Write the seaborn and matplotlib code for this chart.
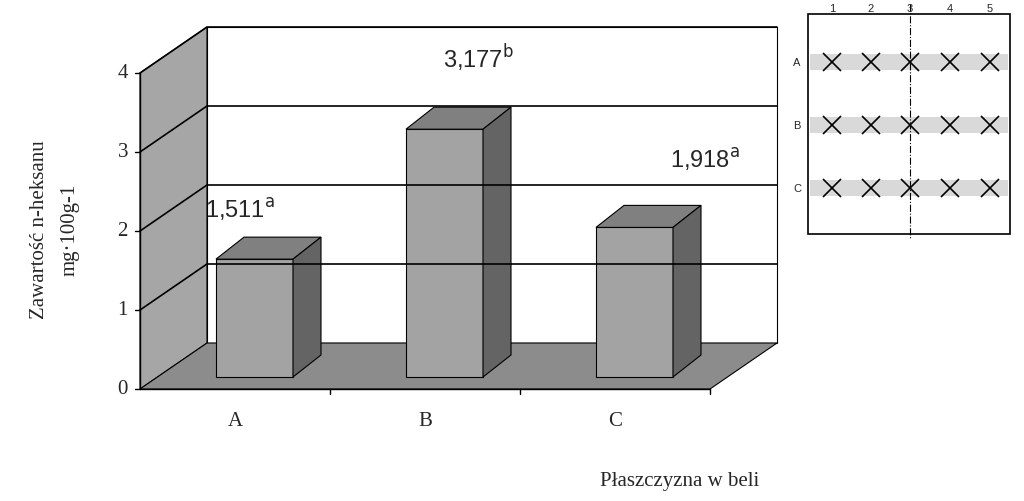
import matplotlib
matplotlib.use("Agg")
import matplotlib.pyplot as plt
import seaborn as sns
from matplotlib.patches import Polygon, Rectangle

sns.set_style("white")
plt.rcParams['font.family'] = ['Liberation Sans', 'DejaVu Sans']

categories = ["A", "B", "C"]
values = [1.511, 3.177, 1.918]
labels = ["1,511", "3,177", "1,918"]
letters = ["a", "b", "a"]
yticks = [0, 1, 2, 3, 4]
cols = ["1", "2", "3", "4", "5"]

fig = plt.figure(figsize=(10.24, 5.02), dpi=100)
ax = fig.add_axes([0, 0, 1, 1])
ax.set_xlim(0, 1024); ax.set_ylim(502, 0); ax.axis("off")

X0, X1, Y0, U = 140, 710, 390, 79
DX, DY = 67, -46
def fy(v): return Y0 - U * v

# walls
ax.add_patch(Polygon([(X0, fy(0)), (X0, fy(4)), (X0+DX, fy(4)+DY), (X0+DX, fy(0)+DY)],
                     closed=True, fc="#a6a6a6", ec="black", lw=0.8))
ax.add_patch(Polygon([(X0+DX, fy(4)+DY), (X1+DX, fy(4)+DY), (X1+DX, fy(0)+DY), (X0+DX, fy(0)+DY)],
                     closed=True, fc="white", ec="black", lw=0.8))
ax.add_patch(Polygon([(X0, fy(0)), (X1, fy(0)), (X1+DX, fy(0)+DY), (X0+DX, fy(0)+DY)],
                     closed=True, fc="#8c8c8c", ec="black", lw=0.8))
for v in yticks[1:]:
    ax.plot([X0, X0+DX, X1+DX], [fy(v), fy(v)+DY, fy(v)+DY], color="black", lw=1.2)
# axis line and ticks
ax.plot([X0, X0], [fy(0), fy(4)], color="black", lw=1)
ax.plot([X0, X1], [fy(0), fy(0)], color="black", lw=1)
for v in yticks:
    ax.plot([X0-5, X0], [fy(v), fy(v)], color="black", lw=1)
    ax.text(X0-12, fy(v), str(v), ha="right", va="center", fontsize=15, family="Liberation Serif")

# bars
step = (X1 - X0) / len(categories)
bdx, bdy, base, w = 28, -22, 378, 77
for i, (c, v) in enumerate(zip(categories, values)):
    left = X0 + step * i + 76
    top = base - 78 * v
    ax.add_patch(Rectangle((left, top), w, base - top, fc="#a3a3a3", ec="black", lw=0.8))
    ax.add_patch(Polygon([(left, top), (left+w, top), (left+w+bdx, top+bdy), (left+bdx, top+bdy)],
                         closed=True, fc="#808080", ec="black", lw=0.8))
    ax.add_patch(Polygon([(left+w, top), (left+w+bdx, top+bdy), (left+w+bdx, base+bdy), (left+w, base)],
                         closed=True, fc="#646464", ec="black", lw=0.8))
    ax.plot([X0 + step*(i+1)]*2, [fy(0), fy(0)+5], color="black", lw=1)
    ax.text(X0 + step*i + step/2, 422, c, ha="center", va="center", fontsize=15, family="Liberation Serif")

lab_pos = [(240, 210), (478, 58), (705, 160)]
for (x, y), l, s in zip(lab_pos, labels, letters):
    ax.text(x, y, l + r"$^{\mathrm{" + s + "}}$", ha="center", va="center", fontsize=17)

ax.text(40, 230, "Zawartość n-heksanu", rotation=90, ha="center", va="center",
        fontsize=15, family="Liberation Serif")
ax.text(70, 230, "mg·100g-1", rotation=90, ha="center", va="center",
        fontsize=15, family="Liberation Serif")
ax.text(680, 482, "Płaszczyzna w beli", ha="center", va="center", fontsize=15, family="Liberation Serif")

# inset
ax.add_patch(Rectangle((808, 15), 202, 220, fc="white", ec="black", lw=1.2))
cx = [832, 871, 910, 950, 990]
for x, c in zip(cx, cols):
    ax.text(x, 9, c, ha="center", va="center", fontsize=8)
for r, yy in zip(categories, [63, 126, 189]):
    ax.add_patch(Rectangle((810, yy-8), 198, 16, fc="#d9d9d9", ec="none"))
    ax.text(797, yy, r, ha="center", va="center", fontsize=8)
    ax.plot(cx, [yy]*5, ls="none", marker="x", ms=13, mew=1.2, color="black")
ax.plot([910, 910], [5, 240], color="black", lw=0.8, ls="-.")

fig.savefig("out.png", dpi=100)
